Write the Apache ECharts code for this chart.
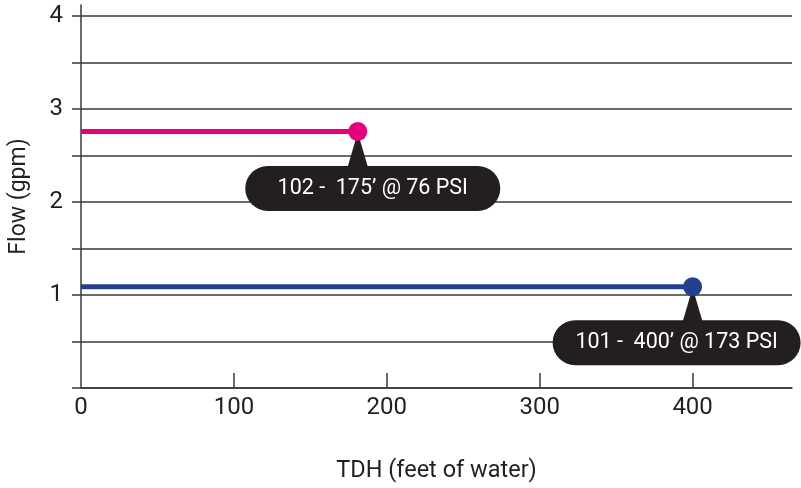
<!DOCTYPE html>
<html>
<head>
<meta charset="utf-8">
<script src="https://cdn.jsdelivr.net/npm/echarts@6/dist/echarts.min.js"></script>
<style>
  html, body { margin: 0; padding: 0; background: #fff; }
  #chart { width: 801px; height: 488px; }
</style>
</head>
<body>
<div id="chart"></div>
<script>
// pump runs: flow held flat out to the operating point
const tdh102 = [0, 181]
const flow102 = [2.76, 2.76]
const tdh101 = [0, 400]
const flow101 = [1.09, 1.09]
const callouts = ['102 -  175\u2019 @ 76 PSI', '101 -  400\u2019 @ 173 PSI']

const xLabelValues = [0, 100, 200, 300, 400]
const xTickValues = [100, 200, 300, 400]
const yTickValues = [0, 0.5, 1, 1.5, 2, 2.5, 3, 3.5, 4]
const yLabelValues = [1, 2, 3, 4]

const ink = '#231f20'
const gridInk = '#3a3a3a'
const font = 'Roboto, "Liberation Sans", sans-serif'

const pill = (text, width, offset) => ({
  show: true,
  position: 'inside',
  offset,
  formatter: text,
  color: '#fff',
  fontFamily: font,
  fontSize: 21.5,
  backgroundColor: ink,
  borderRadius: 23,
  width,
  height: 45,
  lineHeight: 45,
  align: 'center',
  verticalAlign: 'middle',
})

const pointer = (x, y) => ({
  z: 1,
  symbol: 'triangle',
  symbolSize: [20, 34],
  symbolOffset: [0, 18],
  itemStyle: { color: ink },
  label: { show: false },
  data: [{ coord: [x, y] }],
})

const makeSeries = (name, xs, ys, color, label, width, offset) => ({
  name,
  type: 'line',
  z: 2,
  symbol: 'circle',
  symbolSize: 19,
  lineStyle: { color, width: 5 },
  itemStyle: { color, borderWidth: 0 },
  data: xs.map((x, i) =>
    i === xs.length - 1
      ? { value: [x, ys[i]], label: pill(label, width, offset) }
      : { value: [x, ys[i]], symbol: 'none' },
  ),
  markPoint: pointer(xs[xs.length - 1], ys[ys.length - 1]),
  animation: false,
})

const chart = echarts.init(document.getElementById('chart'))
chart.setOption({
  animation: false,
  grid: { left: 79, right: 9, top: 5, bottom: 99 },
  xAxis: {
    type: 'value',
    min: 0,
    max: 465,
    name: 'TDH (feet of water)',
    nameLocation: 'middle',
    nameGap: 71,
    nameTextStyle: { color: ink, fontFamily: font, fontSize: 23.5 },
    axisLine: { show: true, lineStyle: { color: gridInk, width: 1.5 } },
    axisTick: {
      show: true,
      inside: true,
      length: 15,
      customValues: xTickValues,
      lineStyle: { color: gridInk, width: 1.5 },
    },
    axisLabel: {
      customValues: xLabelValues,
      margin: 8,
      color: ink,
      fontFamily: font,
      fontSize: 24,
    },
    splitLine: { show: false },
  },
  yAxis: {
    type: 'value',
    min: 0,
    max: 4.12,
    name: 'Flow (gpm)',
    nameLocation: 'middle',
    nameGap: 50,
    nameTextStyle: { color: ink, fontFamily: font, fontSize: 23 },
    axisLine: { show: true, lineStyle: { color: gridInk, width: 1.5 } },
    axisTick: {
      show: true,
      length: 9,
      customValues: yTickValues,
      lineStyle: { color: gridInk, width: 1.5 },
    },
    axisLabel: {
      customValues: yLabelValues,
      margin: 18,
      color: ink,
      fontFamily: font,
      fontSize: 24,
    },
    splitLine: { show: true, lineStyle: { color: gridInk, width: 1.5 } },
  },
  series: [
    makeSeries('102', tdh102, flow102, '#e6007e', callouts[0], 255, [15, 57]),
    makeSeries('101', tdh101, flow101, '#233f8f', callouts[1], 248, [-16, 56]),
  ],
})
</script>
</body>
</html>
